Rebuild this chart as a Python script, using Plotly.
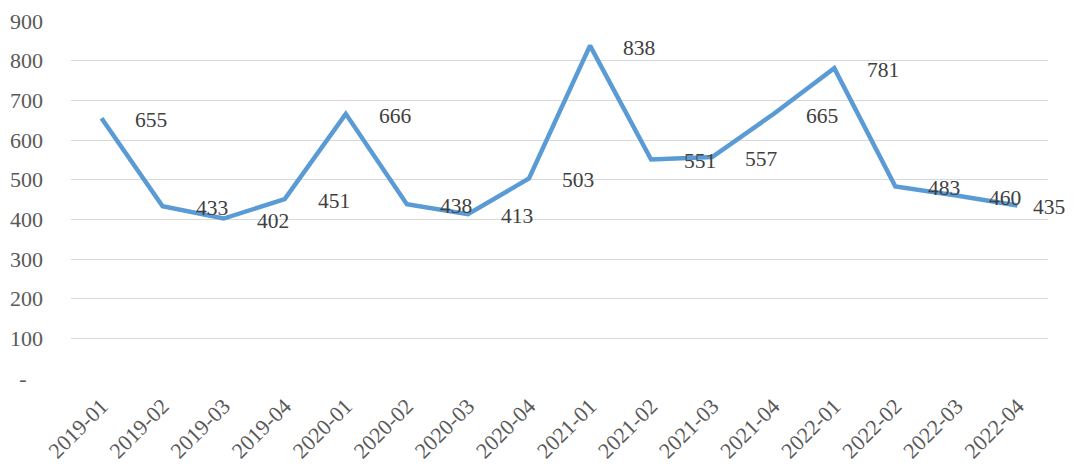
import plotly.graph_objects as go

categories = ["2019-01", "2019-02", "2019-03", "2019-04",
              "2020-01", "2020-02", "2020-03", "2020-04",
              "2021-01", "2021-02", "2021-03", "2021-04",
              "2022-01", "2022-02", "2022-03", "2022-04"]
values = [655, 433, 402, 451, 666, 438, 413, 503,
          838, 551, 557, 665, 781, 483, 460, 435]
y_tickvals = [0, 100, 200, 300, 400, 500, 600, 700, 800, 900]
y_ticktext = ["-\u00a0\u00a0\u00a0", "100", "200", "300", "400", "500", "600", "700", "800", "900"]

FONT = "Liberation Serif, Times New Roman, serif"

fig = go.Figure()
fig.add_trace(go.Scatter(
    x=categories, y=values, mode="lines",
    line=dict(color="#5B9BD5", width=4.5),
    hoverinfo="skip",
))

annotations = []
for i, (c, v) in enumerate(zip(categories, values)):
    last = i == len(categories) - 1
    annotations.append(dict(
        x=c, y=v, xref="x", yref="y", text=str(v), showarrow=False,
        xanchor="left", yanchor="middle",
        xshift=14 if last else 31, yshift=-2,
        font=dict(family=FONT, size=21.5, color="#404040"),
    ))

fig.update_layout(
    width=1091, height=466,
    margin=dict(l=63, r=51, t=13, b=96),
    paper_bgcolor="white", plot_bgcolor="white",
    showlegend=False,
    annotations=annotations,
    font=dict(family=FONT, size=21, color="#595959"),
    xaxis=dict(
        type="category", tickangle=-45, showgrid=False, zeroline=False,
        showline=False, ticks="", range=[-0.5, len(categories) - 0.5],
        automargin=False, ticklabelstandoff=10,
        tickfont=dict(family=FONT, size=22, color="#595959"),
    ),
    yaxis=dict(
        range=[0, 900], tickvals=y_tickvals, ticktext=y_ticktext,
        showgrid=True, gridcolor="#D9D9D9", gridwidth=1.3,
        zeroline=False, showline=False, ticks="",
        automargin=False, ticklabelstandoff=27,
        tickfont=dict(family=FONT, size=22, color="#595959"),
    ),
)

fig.write_html("out.html")
